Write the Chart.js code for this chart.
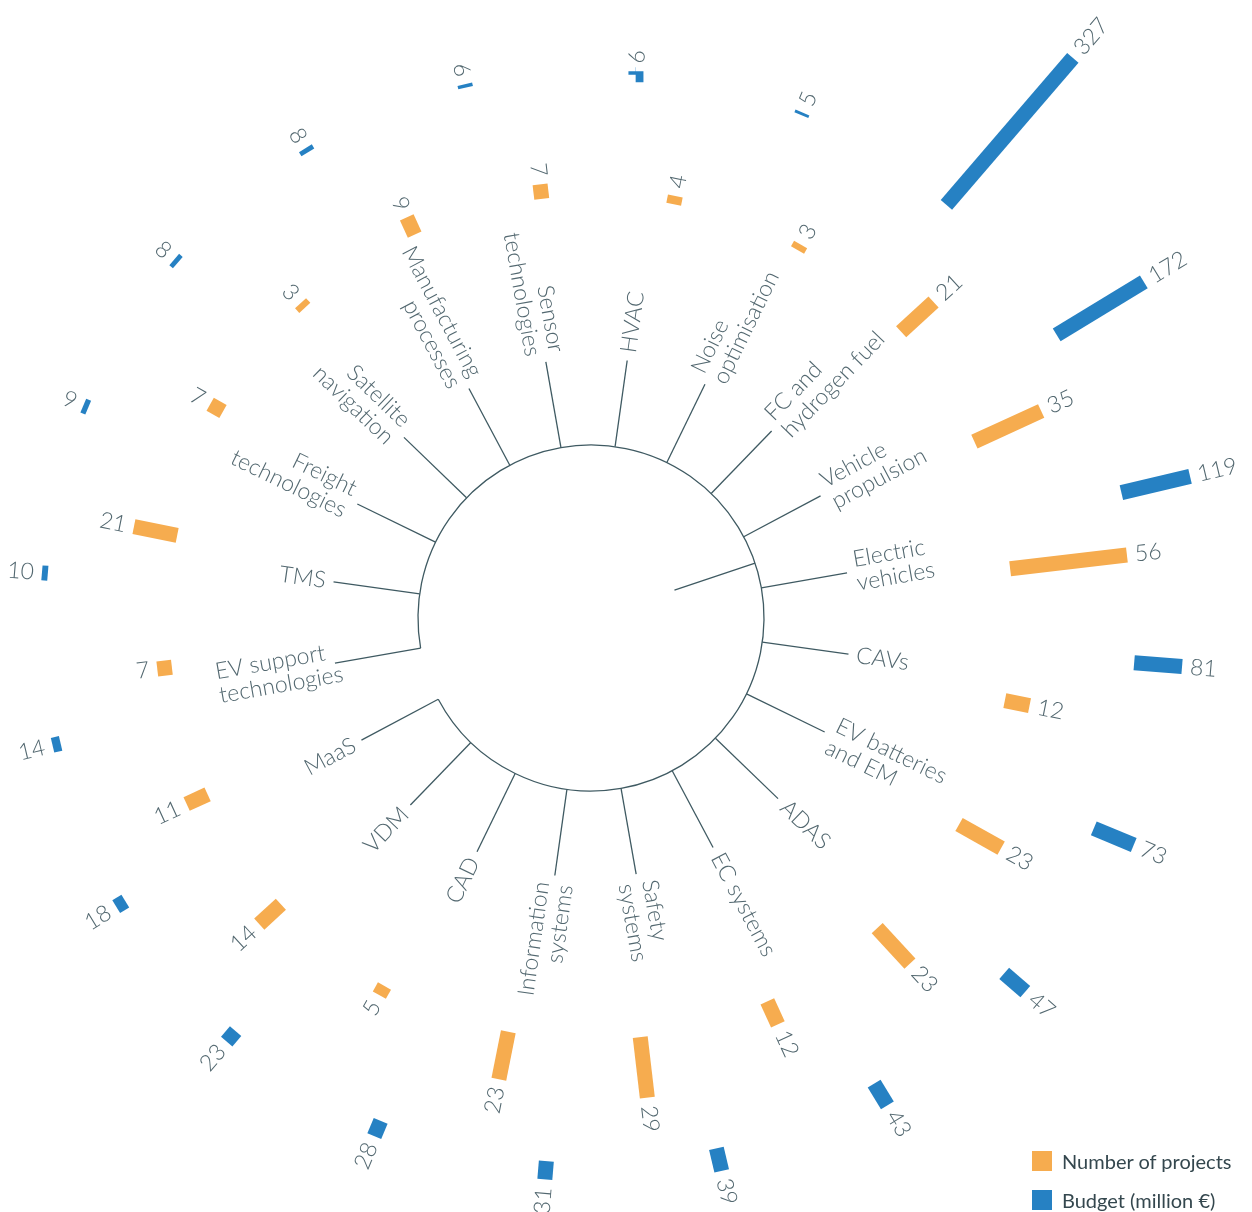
<!DOCTYPE html>
<html><head><meta charset="utf-8">
<script src="https://cdn.jsdelivr.net/npm/chart.js@4.4.1/dist/chart.umd.min.js"></script>
<style>
html,body{margin:0;padding:0;background:#fff;}
#wrap{position:relative;width:1252px;height:1212px;overflow:hidden;}
#c{position:absolute;left:0;top:0;}
.lg{position:absolute;left:1032px;height:20px;line-height:20px;font-family:Lato,"Open Sans",sans-serif;font-size:20px;color:#34474e;white-space:nowrap;}
.lg span{display:inline-block;width:20px;height:20px;vertical-align:top;margin-right:10px;}
</style></head><body>
<div id="wrap">
<canvas id="c" width="1252" height="1212"></canvas>
<div class="lg" id="lg0" style="top:1151px"><span style="background:#F6AC4F"></span><b style="font-weight:400" id="t0"></b></div>
<div class="lg" id="lg1" style="top:1190px"><span style="background:#2681C3"></span><b style="font-weight:400" id="t1"></b></div>
</div>
<script>
// ---- data ----
const categories = ['FC and\nhydrogen fuel','Vehicle\npropulsion','Electric\nvehicles','CAVs','EV batteries\nand EM','ADAS','EC systems','Safety\nsystems','Information\nsystems','CAD','VDM','MaaS','EV support\ntechnologies','TMS','Freight\ntechnologies','Satellite\nnavigation','Manufacturing\nprocesses','Sensor\ntechnologies','HVAC','Noise\noptimisation'];
const projects = [21,35,56,12,23,23,12,29,23,5,14,11,7,21,7,3,9,7,4,3];
const budget = [327,172,119,81,73,47,43,39,31,28,23,18,14,10,9,8,8,6,6,5];
const seriesNames = ['Number of projects','Budget (million €)'];

// ---- geometry / style ----
const ORANGE = '#F6AC4F', BLUE = '#2681C3', TEXT = '#536870', LINE = '#3f5a62';
const FIRST_ANGLE = -46;
const STEP = 360 / categories.length;
const HUB_R = 173, LEADER_R = 260, LABEL_GAP = 8;
const P_BASE = 422, P_SCALE = 2.1, P_OFF = 3.3;
const B_BASE = 545, B_SCALE = 0.593, B_OFF = -3.3;
const BAR_W = 15, VAL_GAP = 8, LH = 24;
const FONT = '300 23px Lato, "Open Sans", sans-serif';
const firstLineAnchored = new Set(['EV support\ntechnologies']);

document.getElementById('t0').textContent = seriesNames[0];
document.getElementById('t1').textContent = seriesNames[1];

const rad = d => d * Math.PI / 180;
const catAngle = i => FIRST_ANGLE + STEP * i;
const polar = (r, deg) => ({x: r * Math.cos(rad(deg)), y: r * Math.sin(rad(deg))});

const datasets = [];
categories.forEach((c, i) => {
  const a = catAngle(i);
  datasets.push({label: seriesNames[0], cat: i, kind: 'p', value: projects[i], angle: a + P_OFF, r1: P_BASE + P_SCALE * projects[i],
    data: [polar(P_BASE, a + P_OFF), polar(P_BASE + P_SCALE * projects[i], a + P_OFF)],
    borderColor: ORANGE, backgroundColor: ORANGE});
  datasets.push({label: seriesNames[1], cat: i, kind: 'b', value: budget[i], angle: a + B_OFF, r1: B_BASE + B_SCALE * budget[i],
    data: [polar(B_BASE, a + B_OFF), polar(B_BASE + B_SCALE * budget[i], a + B_OFF)],
    borderColor: BLUE, backgroundColor: BLUE});
});
datasets.forEach(d => Object.assign(d, {showLine: true, borderWidth: BAR_W, borderCapStyle: 'butt', pointRadius: 0, pointHoverRadius: 0, tension: 0}));

function radialText(ctx, cx, cy, unit, deg, r, lines, mode) {
  const a = rad(deg);
  const right = Math.cos(a) >= 0;
  ctx.save();
  ctx.translate(cx + r * unit * Math.cos(a), cy + r * unit * Math.sin(a));
  ctx.rotate(right ? a : a + Math.PI);
  ctx.textBaseline = 'middle';
  const n = lines.length;
  if (mode === 'first' && !right) {
    const w0 = ctx.measureText(lines[0]).width;
    ctx.textAlign = 'left';
    lines.forEach((t, k) => ctx.fillText(t, -w0, (k - (n - 1) / 2) * LH));
  } else {
    ctx.textAlign = right ? 'left' : 'right';
    lines.forEach((t, k) => ctx.fillText(t, 0, (k - (n - 1) / 2) * LH));
  }
  ctx.restore();
}

const decor = {
  id: 'decor',
  beforeDatasetsDraw(chart) {
    const ctx = chart.ctx, xs = chart.scales.x, ys = chart.scales.y;
    const cx = xs.getPixelForValue(0), cy = ys.getPixelForValue(0);
    const unit = xs.getPixelForValue(1) - cx;
    ctx.save();
    ctx.strokeStyle = LINE; ctx.lineWidth = 1.3;
    // hub circle, open between MaaS and EV support
    const gs = catAngle(11), ge = catAngle(12);
    ctx.beginPath();
    ctx.arc(cx, cy, HUB_R * unit, rad(ge), rad(gs + 360));
    ctx.stroke();
    // leader lines
    categories.forEach((c, i) => {
      const a = rad(catAngle(i));
      ctx.beginPath();
      ctx.moveTo(cx + HUB_R * unit * Math.cos(a), cy + HUB_R * unit * Math.sin(a));
      ctx.lineTo(cx + LEADER_R * unit * Math.cos(a), cy + LEADER_R * unit * Math.sin(a));
      ctx.stroke();
    });
    // inner tick at boundary between categories 1 and 2
    const tb = rad(catAngle(1) + STEP / 2 + 0.5);
    ctx.beginPath();
    ctx.moveTo(cx + 88 * unit * Math.cos(tb), cy + 88 * unit * Math.sin(tb));
    ctx.lineTo(cx + HUB_R * unit * Math.cos(tb), cy + HUB_R * unit * Math.sin(tb));
    ctx.stroke();
    ctx.restore();
  },
  afterDatasetsDraw(chart) {
    const ctx = chart.ctx, xs = chart.scales.x, ys = chart.scales.y;
    const cx = xs.getPixelForValue(0), cy = ys.getPixelForValue(0);
    const unit = xs.getPixelForValue(1) - cx;
    ctx.save();
    ctx.fillStyle = TEXT; ctx.font = FONT;
    categories.forEach((c, i) => {
      radialText(ctx, cx, cy, unit, catAngle(i), LEADER_R + LABEL_GAP, c.split('\n'), firstLineAnchored.has(c) ? 'first' : '');
    });
    chart.data.datasets.forEach(d => {
      radialText(ctx, cx, cy, unit, d.angle, d.r1 + VAL_GAP, [String(d.value)], '');
    });
    ctx.restore();
  }
};

new Chart(document.getElementById('c'), {
  type: 'scatter',
  data: {datasets},
  options: {
    responsive: false, animation: false, events: [],
    layout: {padding: 0},
    plugins: {legend: {display: false}, tooltip: {enabled: false}},
    scales: {
      x: {type: 'linear', display: false, bounds: 'data', min: -591, max: 661},
      y: {type: 'linear', display: false, bounds: 'data', reverse: true, min: -618, max: 594}
    }
  },
  plugins: [decor]
});
</script>
</body></html>
